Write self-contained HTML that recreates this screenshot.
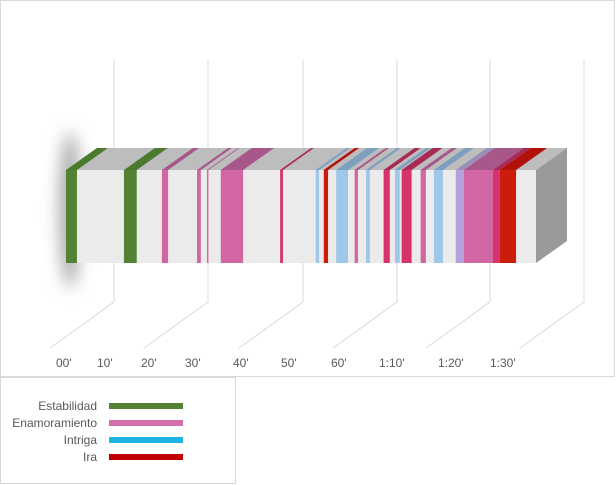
<!DOCTYPE html>
<html><head><meta charset="utf-8"><style>
html,body{margin:0;padding:0;background:#fff;}
svg{display:block;font-family:"Liberation Sans",sans-serif;}
</style></head><body>
<svg width="616" height="485" viewBox="0 0 616 485">
<defs><filter id="blur" x="-2" y="-1" width="5" height="3"><feGaussianBlur stdDeviation="8"/></filter></defs>
<rect x="0.5" y="0.5" width="614" height="376" fill="#fff" stroke="#d9d9d9"/>
<g id="grid"></g>
<ellipse cx="70" cy="210" rx="11" ry="78" fill="#aaa" filter="url(#blur)"/>
<g id="bar"></g>
<g id="labels"></g>
<rect x="0.5" y="377.5" width="235" height="106" fill="#fff" stroke="#d9d9d9"/>
<g id="legend"></g>
</svg>
<script>
const tickLabels=["00'","10'","20'","30'","40'","50'","60'","1:10'","1:20'","1:30'"];
const labelX=[56,97,141,185,233,281,331,379,438,490];
const gridX=[114,208,303,397,490,584];
const segStart=[0,12.2,20.2,27.6,29.7,32.6,45.1,52.6,54.3,56.9,60.8,63.2,66.9,69.3,70.7,74.7,77.5,82.1,83.8,89.9,91.4];
const segEnd=[2.3,14.9,21.5,28.4,30.0,37.3,45.7,53.3,55.2,59.4,61.5,64.0,68.2,70.3,72.8,75.8,79.4,83.8,89.9,91.4,94.8];
const segType=["est","est","ena","ena","ena","ena","cri","int","ira","int","ena","int","cri","int","cri","ena","int","lav","ena","cri","ira"];
const totalMin=99;
const legendNames=["Estabilidad","Enamoramiento","Intriga","Ira"];
const legendColors=["#548235","#d46fae","#1fb4e6","#c00000"];
const frontCol={est:"#548235",ena:"#d066a2",int:"#9fc7ea",ira:"#cc1c0c",cri:"#d6336c",lav:"#b3a1dc"};
const topCol={est:"#4a7a2b",ena:"#a8578a",int:"#7f9fbf",ira:"#b2110a",cri:"#a82a55",lav:"#9a8fb8"};
const NS="http://www.w3.org/2000/svg";
const X0=66,X1=536,Y0=170,Y1=263,DX=31,DY=-22;
const sx=m=>X0+(X1-X0)*m/totalMin;
function mk(tag,attrs,parent){const e=document.createElementNS(NS,tag);for(const k in attrs)e.setAttribute(k,attrs[k]);parent.appendChild(e);return e;}
const grid=document.getElementById('grid');
gridX.forEach(x=>{
  const l=mk('polyline',{points:`${x},60 ${x},302 ${x-64},348`,fill:'none',stroke:'#d9d9d9','stroke-width':1},grid);
  
  
});
const bar=document.getElementById('bar');
const tf=mk('polygon',{points:`${X0},${Y0} ${X0+DX},${Y0+DY} ${X1+DX},${Y0+DY} ${X1},${Y0}`,fill:'#bdbdbd'},bar);


const ff=mk('rect',{x:X0,y:Y0,width:X1-X0,height:Y1-Y0,fill:'#ebebeb'},bar);


const sf=mk('polygon',{points:`${X1},${Y0} ${X1+DX},${Y0+DY} ${X1+DX},${Y1+DY} ${X1},${Y1}`,fill:'#9a9a9a'},bar);


segStart.forEach((s,i)=>{
  const a=sx(s),b=sx(segEnd[i]),t=segType[i];
  const p=mk('polygon',{points:`${a},${Y0} ${a+DX},${Y0+DY} ${b+DX},${Y0+DY} ${b},${Y0}`,fill:topCol[t]},bar);
  
  
  const r=mk('rect',{x:a,y:Y0,width:b-a,height:Y1-Y0,fill:frontCol[t]},bar);
  
  
});
const lab=document.getElementById('labels');
tickLabels.forEach((t,i)=>{
  const e=mk('text',{x:labelX[i],y:367,'font-size':12,fill:'#595959'},lab);
  e.textContent=t;
  
  
});
const lg=document.getElementById('legend');
legendNames.forEach((n,i)=>{
  const y=406+i*17;
  const t=mk('text',{x:97,y:y+4,'font-size':12,fill:'#595959','text-anchor':'end'},lg);
  t.textContent=n;
  
  
  const r=mk('rect',{x:109,y:y-3,width:74,height:6,fill:legendColors[i]},lg);
  
  
});
</script>
</body></html>
